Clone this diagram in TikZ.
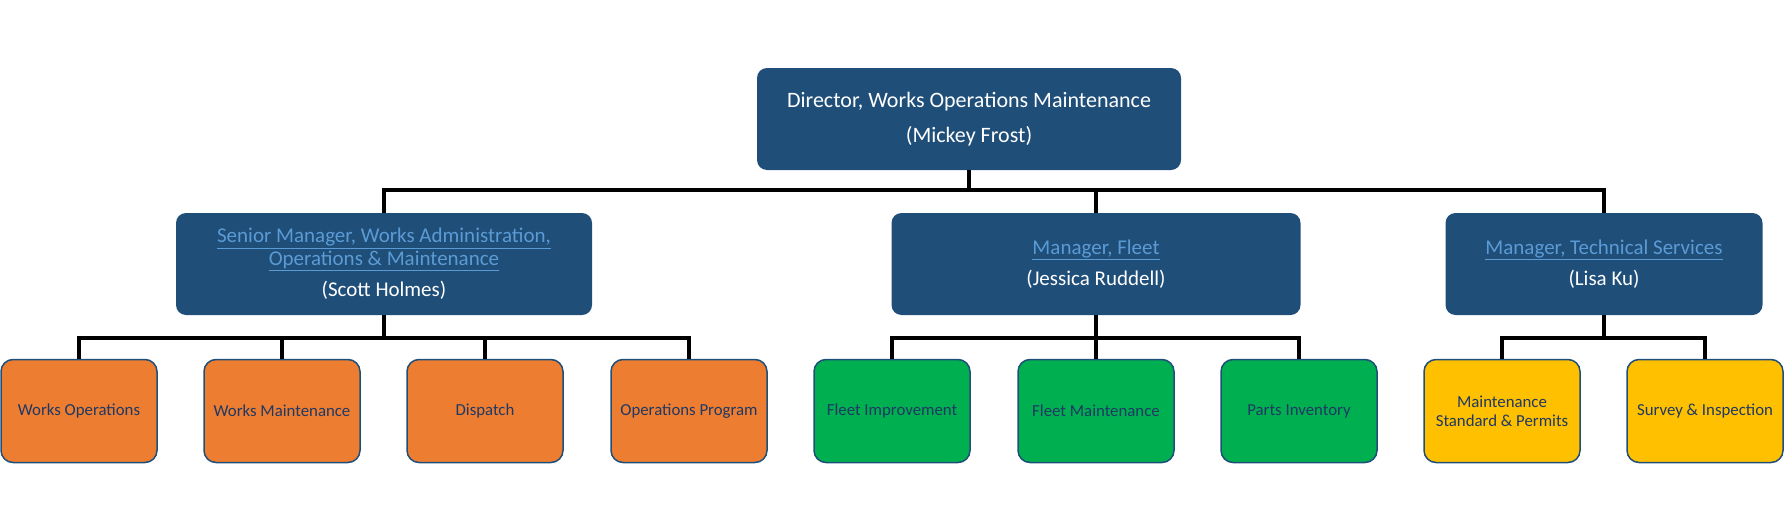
\documentclass[tikz,border=0pt]{standalone}
\usepackage{fontspec}
\setmainfont{Carlito}
\usetikzlibrary{positioning}

\definecolor{boxblue}{HTML}{1F4E79}
\definecolor{linkblue}{HTML}{5B9BD5}
\definecolor{navytext}{HTML}{1F3864}
\definecolor{orangebox}{HTML}{ED7D31}
\definecolor{greenbox}{HTML}{00B050}
\definecolor{yellowbox}{HTML}{FFC000}

\newcommand{\linktext}[1]{\textcolor{linkblue}{\underline{#1}}}

\tikzset{
  head/.style={fill=boxblue, rounded corners=10pt, minimum height=102pt,
    align=center, text=white, inner sep=0pt, font=\fontsize{21}{23}\selectfont},
  unit/.style={draw=boxblue, line width=1.5pt, rounded corners=12pt,
    minimum width=156pt, minimum height=103pt, inner sep=0pt, align=center,
    text=navytext, font=\fontsize{16.8}{19}\selectfont},
  conn/.style={line width=4pt, black},
}

\begin{document}
\begin{tikzpicture}[x=1pt,y=-1pt]
    \useasboundingbox (0,0) rectangle (1785,530);

    % Top level
    \node[head, minimum width=424pt, font=\fontsize{22}{25}\selectfont] (dir) at (969,119)
        {Director, Works Operations Maintenance\\[10pt](Mickey Frost)};

    % Managers
    \node[head, minimum width=416pt] (sen) at (384,264)
        {\linktext{Senior Manager, Works Administration,}\\
         \linktext{Operations \& Maintenance}\\[8pt](Scott Holmes)};
    \node[head, minimum width=409pt] (fleet) at (1096,264)
        {\linktext{Manager, Fleet}\\[8pt](Jessica Ruddell)};
    \node[head, minimum width=317pt] (tech) at (1604,264)
        {\linktext{Manager, Technical Services}\\[8pt](Lisa Ku)};

    % Units
    \node[unit, fill=orangebox] (worksops) at (79,411) {Works Operations};
    \node[unit, fill=orangebox] (worksmaint) at (282,411) {Works Maintenance};
    \node[unit, fill=orangebox] (dispatch) at (485,411) {Dispatch};
    \node[unit, fill=orangebox] (opsprog) at (689,411) {Operations Program};

    \node[unit, fill=greenbox] (fleetimp) at (892,411) {Fleet Improvement};
    \node[unit, fill=greenbox] (fleetmaint) at (1096,411) {Fleet Maintenance};
    \node[unit, fill=greenbox] (parts) at (1299,411) {Parts Inventory};

    \node[unit, fill=yellowbox] (standards) at (1502,411) {Maintenance\\Standard \& Permits};
    \node[unit, fill=yellowbox] (survey) at (1705,411) {Survey \& Inspection};

    % Connectors
    \draw[conn] (dir.south) -- ++(0,20) coordinate (bus0);
    \draw[conn] (sen.north) |- (bus0) -| (tech.north);
    \draw[conn] (fleet.north) -- (fleet.north |- bus0);

    \draw[conn] (sen.south) -- ++(0,23) coordinate (bus1);
    \draw[conn] (worksops.north) |- (bus1) -| (opsprog.north);
    \draw[conn] (worksmaint.north) -- (worksmaint.north |- bus1);
    \draw[conn] (dispatch.north) -- (dispatch.north |- bus1);

    \draw[conn] (fleet.south) -- ++(0,23) coordinate (bus2);
    \draw[conn] (fleetimp.north) |- (bus2) -| (parts.north);
    \draw[conn] (fleetmaint.north) -- (fleetmaint.north |- bus2);

    \draw[conn] (tech.south) -- ++(0,23) coordinate (bus3);
    \draw[conn] (standards.north) |- (bus3) -| (survey.north);
\end{tikzpicture}
\end{document}
